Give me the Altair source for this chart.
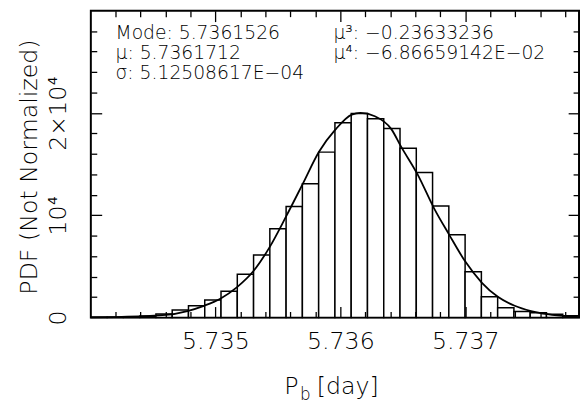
import altair as alt
import pandas as pd

# ---------------- data ----------------
X_MIN = 5.734003
X_MAX = 5.737910
N_BINS = 30
counts = [10, 20, 50, 130, 330, 720, 1140, 1710, 2560, 4230,
          6100, 8680, 10860, 13080, 16170, 19050, 19940, 19430, 18490, 16550,
          14180, 10900, 8090, 4480, 2020, 950, 590, 450, 310, 170]

curve_x = [5.734003, 5.734250, 5.734605, 5.734776, 5.734908, 5.735039, 5.735171,
           5.735303, 5.735434, 5.735566, 5.735698, 5.735829, 5.735958, 5.736092,
           5.736160, 5.736276, 5.736408, 5.736487, 5.736618, 5.736750, 5.736868,
           5.737000, 5.737131, 5.737263, 5.737395, 5.737526, 5.737658, 5.737829,
           5.737910]
curve_y = [15, 60, 246, 626, 1138, 1830, 2939, 4512, 6882, 9888, 13044, 16211,
           18340, 19842, 20000, 19680, 18420, 16685, 13992, 10674, 8153, 5460,
           3413, 1991, 1138, 626, 313, 95, 40]

x_label_values = [5.735, 5.736, 5.737]
x_tick_values = [5.7342, 5.7344, 5.7346, 5.7348, 5.7350, 5.7352, 5.7354, 5.7356,
                 5.7358, 5.7360, 5.7362, 5.7364, 5.7366, 5.7368, 5.7370, 5.7372,
                 5.7374, 5.7376, 5.7378]
y_label_values = [0, 10000, 20000]
y_tick_values = [2000, 4000, 6000, 8000, 10000, 12000, 14000, 16000, 18000,
                 20000, 22000, 24000, 26000, 28000]

ann_left = ["Mode: 5.7361526", "\u03bc: 5.7361712", "\u03c3: 5.12508617E\u221204"]
ann_right = ["\u03bc\u00b3: \u22120.23633236", "\u03bc\u2074: \u22126.86659142E\u221202"]
y_title = "PDF (Not Normalized)"

# ---------------- build tables ----------------
bw = (X_MAX - X_MIN) / N_BINS
hist = pd.DataFrame({
    "x0": [X_MIN + i * bw for i in range(N_BINS)],
    "x1": [X_MIN + (i + 1) * bw for i in range(N_BINS)],
    "count": counts,
    "base": [0] * N_BINS,
})
curve = pd.DataFrame({"x": curve_x, "y": curve_y})

FONT = "DejaVu Sans"
FW = 200
W, H = 495, 311

xs = alt.Scale(domain=[X_MIN, X_MAX], nice=False, zero=False)
ys = alt.Scale(domain=[0, 30000], nice=False, zero=False)

MAJ_X = "abs(datum.value*1000 - round(datum.value*1000)) < 1e-6"
MAJ_Y = "datum.value % 10000 == 0"


def tick_axis(orient, values, test, off):
    return alt.Axis(orient=orient, offset=off, values=values, labels=False,
                    domain=False, grid=False, title=None, ticks=True,
                    tickColor="black", tickWidth=1.3,
                    tickSize={"condition": {"test": test, "value": 11}, "value": 6},
                    zindex=1)


ax_x_labels = alt.Axis(orient="bottom", values=x_label_values, format=".3f",
                       ticks=False, tickSize=0, domain=False, grid=False, title=None,
                       labelFont=FONT, labelFontSize=24, labelFontWeight=FW,
                       labelColor="black",
                       labelPadding=12, labelFlush=False, labelOverlap=False)
ax_y_labels = alt.Axis(orient="left", values=y_label_values,
                       labelExpr="datum.value == 0 ? '0' : (datum.value == 10000 ? '10\u2074' : '2\u00d710\u2074')",
                       labelAngle=270, labelAlign="center", labelBaseline="alphabetic",
                       ticks=False, tickSize=0, domain=False, grid=False,
                       labelFont=FONT, labelFontSize=24, labelFontWeight=FW,
                       labelColor="black",
                       labelPadding=26, labelOverlap=False, labelFlush=False,
                       title=y_title, titleFont=FONT, titleFontSize=24,
                       titleFontWeight=FW, titleColor="black", titleAngle=270,
                       titleAlign="center", titleBaseline="alphabetic",
                       titleX=-55, titleY=158)

bars = alt.Chart(hist).mark_rect(fill="white", stroke="black", strokeWidth=1.5).encode(
    x=alt.X("x0:Q", scale=xs, axis=ax_x_labels),
    x2="x1:Q",
    y=alt.Y("count:Q", scale=ys, axis=ax_y_labels),
    y2="base:Q",
)

line = alt.Chart(curve).mark_line(color="black", strokeWidth=1.8, interpolate="monotone").encode(
    x=alt.X("x:Q", scale=xs, axis=tick_axis("top", x_tick_values, MAJ_X, -H)),
    y=alt.Y("y:Q", scale=ys, axis=tick_axis("right", y_tick_values, MAJ_Y, -W)),
)

ghost = alt.Chart(curve).mark_line(opacity=0).encode(
    x=alt.X("x:Q", scale=xs, axis=tick_axis("bottom", x_tick_values, MAJ_X, -H)),
    y=alt.Y("y:Q", scale=ys, axis=tick_axis("left", y_tick_values, MAJ_Y, -W)),
)


def label(txt, x, y, size=19, align="left"):
    return alt.Chart(alt.Data(values=[{}])).mark_text(
        text=txt, font=FONT, fontSize=size, fontWeight=FW, color="black", align=align,
        baseline="alphabetic").encode(x=alt.value(x), y=alt.value(y))


texts = [
    label(ann_left[0], 25, 29),
    label(ann_left[1], 25, 49),
    label(ann_left[2], 25, 69),
    label(ann_right[0], 246, 29),
    label(ann_right[1], 246, 49),
    label("P", 196, 389, size=24),
    label("b", 212, 395, size=17),
    label("[day]", 229, 389, size=24),
]

chart = alt.layer(bars, line, ghost, *texts).resolve_axis(
    x="independent", y="independent"
).properties(
    width=W, height=H,
    padding={"left": 84, "top": 0, "right": 1, "bottom": 85},
    autosize=alt.AutoSizeParams(type="none"),
    background="white",
).configure_view(stroke="black", strokeWidth=2)

chart.save("out.html", embed_options={"renderer": "svg", "actions": False})
